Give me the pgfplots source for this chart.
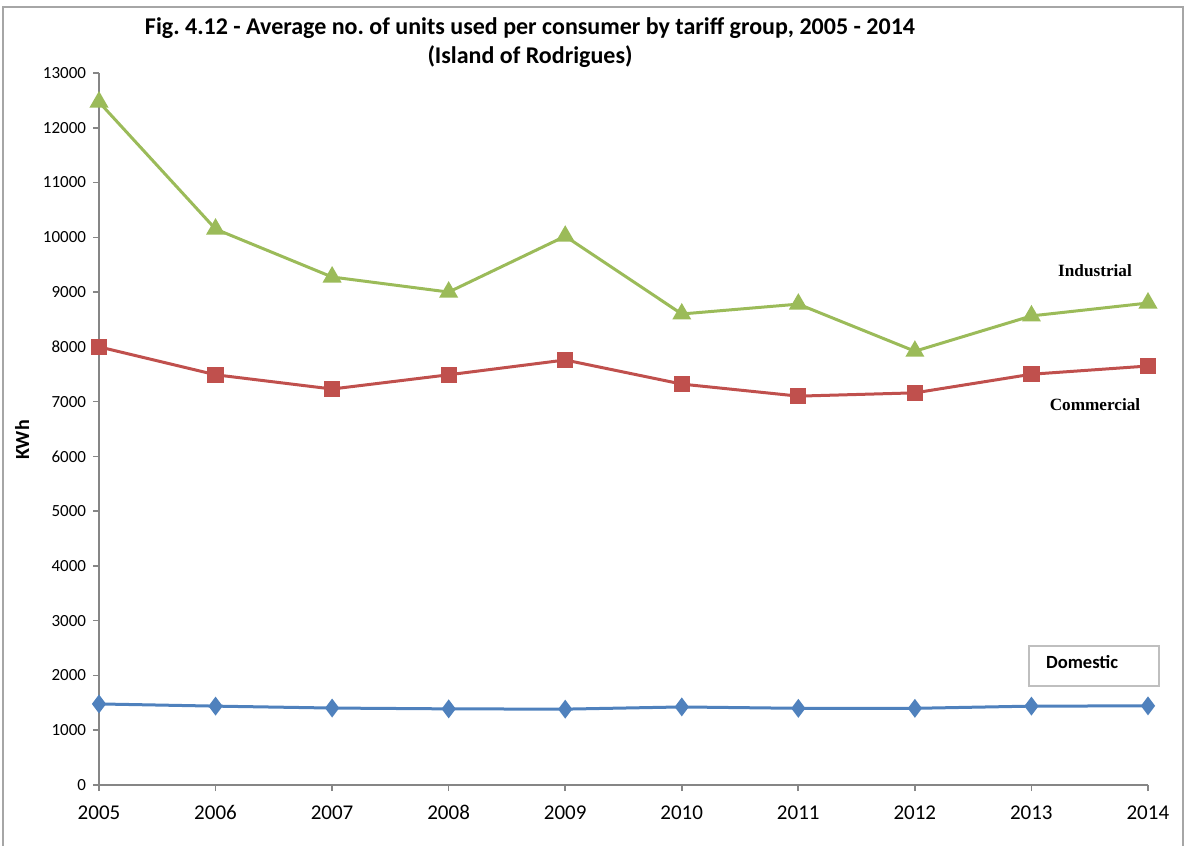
\documentclass[border=0pt]{standalone}
\usepackage{pgfplots}
\pgfplotsset{compat=1.18}
\usepackage{fontspec}
\setmainfont{Carlito}[Numbers=Lining]
\newfontfamily\serifb{Liberation Serif}
\definecolor{indgreen}{HTML}{9BBB59}
\definecolor{comred}{HTML}{C0504D}
\definecolor{domblue}{HTML}{4F81BD}
\definecolor{axgray}{RGB}{134,134,134}
\frenchspacing

\begin{document}
\begin{tikzpicture}
    \path[use as bounding box] (-49.5bp,-30.5bp) rectangle (544bp,392.5bp);
    \begin{axis}[
        scale only axis,
        width=524.5bp,
        height=356bp,
        xmin=2005, xmax=2014,
        ymin=0, ymax=13000,
        xtick={2005,...,2014},
        ytick={0,1000,...,13000},
        axis x line*=bottom,
        axis y line*=left,
        axis line style={axgray, line width=0.9pt, -},
        tick style={axgray, line width=0.8pt},
        tick align=outside,
        major tick length=3bp,
        x tick label style={font=\fontsize{10.5bp}{12bp}\selectfont, yshift=-3bp,
            anchor=north, text height=7.5bp, text depth=0pt},
        y tick label style={font=\fontsize{8.5bp}{10bp}\selectfont},
        /pgf/number format/assume math mode=true,
        /pgf/number format/set thousands separator={},
        scaled y ticks=false,
        clip=false,
    ]

    % Industrial
    \addplot[indgreen, line width=1.5bp, mark=triangle*, mark size=4bp] coordinates {
        (2005, 12470) (2006, 10150) (2007, 9275) (2008, 9000) (2009, 10020)
        (2010, 8600) (2011, 8780) (2012, 7920) (2013, 8565) (2014, 8800)
    };

    % Commercial
    \addplot[comred, line width=1.5bp, mark=square*, mark size=3.3bp] coordinates {
        (2005, 8000) (2006, 7490) (2007, 7230) (2008, 7490) (2009, 7760)
        (2010, 7320) (2011, 7100) (2012, 7160) (2013, 7500) (2014, 7650)
    };

    % Domestic
    \addplot[domblue, line width=1.5bp, mark=diamond*, mark size=3.5bp] coordinates {
        (2005, 1480) (2006, 1440) (2007, 1405) (2008, 1390) (2009, 1385)
        (2010, 1425) (2011, 1400) (2012, 1400) (2013, 1440) (2014, 1445)
    };

    \end{axis}

    % title and labels
    \node[font=\bfseries\fontsize{12bp}{14.5bp}\selectfont, align=center] at (215.5bp,371bp)
        {Fig. 4.12 - Average no. of units used per consumer by tariff group, 2005 - 2014\\(Island of Rodrigues)};
    \node[rotate=90, font=\bfseries\fontsize{10bp}{11bp}\selectfont] at (-38.5bp,172.5bp) {KWh};
    \node[font=\serifb\bfseries\fontsize{8.6bp}{10bp}\selectfont] at (498bp,257bp) {Industrial};
    \node[font=\serifb\bfseries\fontsize{8.6bp}{10bp}\selectfont] at (498bp,190bp) {Commercial};
    \draw[gray!50, line width=0.6pt] (465bp,49.5bp) rectangle (530bp,69.5bp);
    \node[font=\bfseries\fontsize{9.3bp}{10bp}\selectfont, anchor=west] at (470bp,61.5bp) {Domestic};

    % chart border
    \draw[gray!70, line width=0.8pt] (-48bp,-40bp) -- (-48bp,389bp) -- (542bp,389bp) -- (542bp,-40bp);
\end{tikzpicture}
\end{document}
